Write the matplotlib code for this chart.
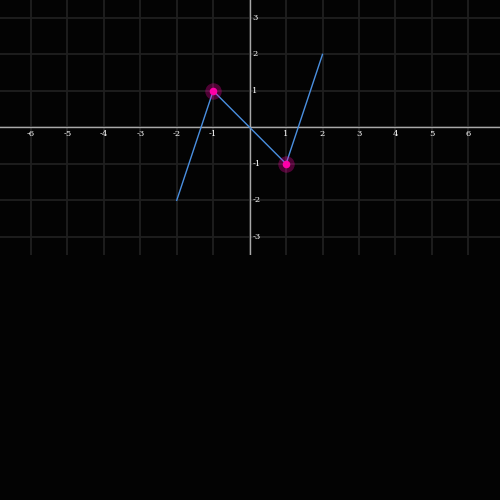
import numpy as np
import matplotlib
matplotlib.use("Agg")
import matplotlib.pyplot as plt

# polyline vertices
xs = [-2, -1, 0, 1, 2]
ys = [-2, 1, 0, -1, 2]
# highlighted points
px = [-1, 1]
py = [1, -1]
xticks = [-6, -5, -4, -3, -2, -1, 1, 2, 3, 4, 5, 6]
yticks = [-3, -2, -1, 1, 2, 3]

fig = plt.figure(figsize=(5, 5), dpi=100, facecolor="#030303")
ax = fig.add_axes([0, 0.49, 1, 0.51])
ax.set_facecolor("#030303")
ax.set_xlim(-6.85, 6.87)
ax.set_ylim(-3.5, 3.49)
for s in ax.spines.values():
    s.set_visible(False)
ax.set_xticks([])
ax.set_yticks([])

# grid
for x in range(-6, 7):
    ax.axvline(x, color="#1f1f1f", lw=1.3, zorder=1)
for y in range(-3, 4):
    ax.axhline(y, color="#1f1f1f", lw=1.3, zorder=1)

# axes lines
ax.axhline(0, color="#a8a8a8", lw=1, zorder=2)
ax.axvline(0, color="#a8a8a8", lw=1, zorder=2)

# tick labels
for x in xticks:
    ax.text(x, -0.18, str(x), color="white", fontsize=6, family="DejaVu Serif",
            ha="center", va="center", zorder=3)
for y in yticks:
    ax.text(0.07, y, str(y), color="white", fontsize=6, family="DejaVu Serif",
            ha="left", va="center", zorder=3)

ax.plot(xs, ys, color="#4a8fe0", lw=1, zorder=4)
ax.scatter(px, py, s=140, color="#ff00a8", alpha=0.3, lw=0, zorder=5)
ax.scatter(px, py, s=30, color="#ff00a8", lw=0, zorder=6)

fig.savefig("out.png", dpi=100, facecolor=fig.get_facecolor())
